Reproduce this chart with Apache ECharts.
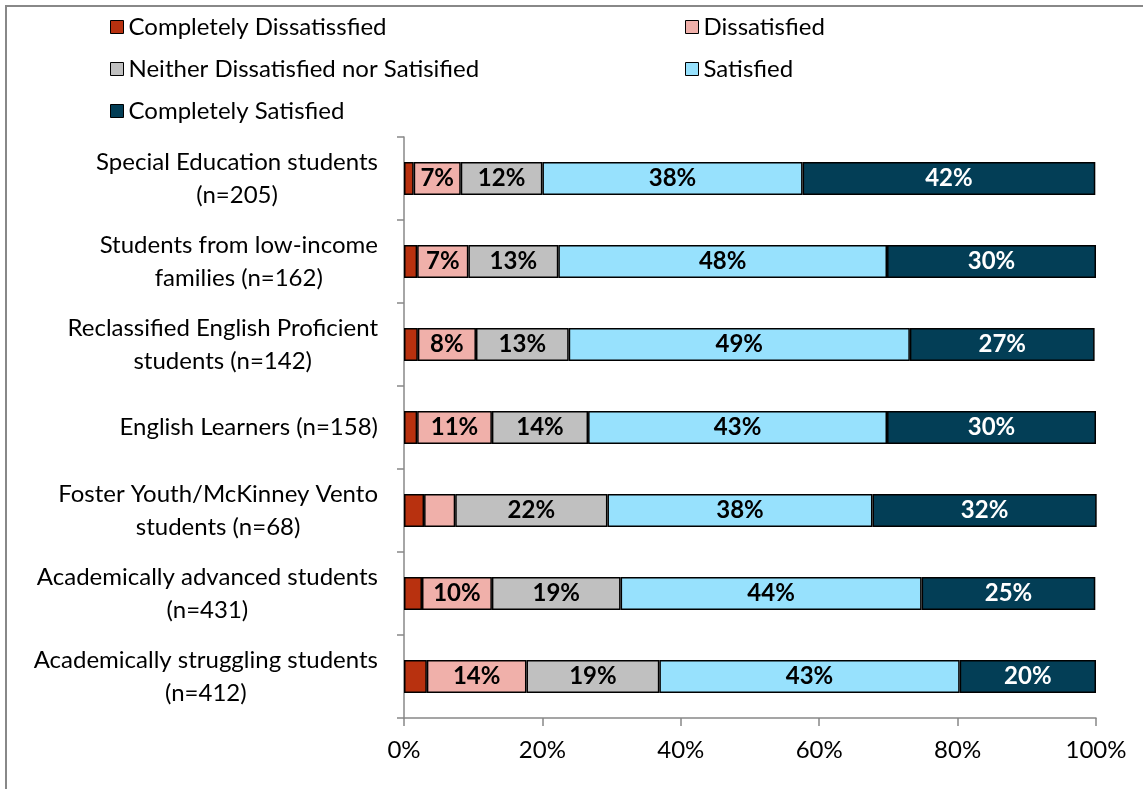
<!DOCTYPE html>
<html>
<head>
<meta charset="utf-8">
<script src="https://cdn.jsdelivr.net/npm/echarts@6/dist/echarts.min.js"></script>
<style>
  html, body { margin: 0; padding: 0; background: #fff; }
  #chart { width: 1143px; height: 789px; }
</style>
</head>
<body>
<div id="chart"></div>
<script>
const categories = [
  'Special Education students\n(n=205)',
  'Students from low-income\nfamilies (n=162)',
  'Reclassified English Proficient\nstudents (n=142)',
  'English Learners (n=158)',
  'Foster Youth/McKinney Vento\nstudents (n=68)',
  'Academically advanced students\n(n=431)',
  'Academically struggling students\n(n=412)'
];
const completelyDissatisfied = [1.4, 1.9, 2.0, 1.9, 2.9, 2.6, 3.3];
const dissatisfied = [6.8, 7.4, 8.4, 10.8, 4.5, 10.1, 14.4];
const neither = [11.8, 13.0, 13.4, 13.9, 22.0, 18.6, 19.2];
const satisfied = [37.6, 47.5, 49.3, 43.2, 38.3, 43.5, 43.4];
const completelySatisfied = [42.3, 30.2, 26.7, 30.2, 32.4, 25.1, 19.7];

const seriesNames = [
  'Completely Dissatissfied',
  'Dissatisfied',
  'Neither Dissatisfied nor Satisified',
  'Satisfied',
  'Completely Satisfied'
];
const seriesData = [completelyDissatisfied, dissatisfied, neither, satisfied, completelySatisfied];
const colors = ['#B8310F', '#F0B0AA', '#C0C0C0', '#97E1FD', '#033E56'];
const labelColors = ['#000', '#000', '#000', '#000', '#fff'];

const FONT = 'Lato';
const FS = 24;

let chart = echarts.init(document.getElementById('chart'));
chart.setOption({
  textStyle: { fontFamily: FONT },
  animation: false,
  graphic: [{
    type: 'rect',
    shape: { x: 6, y: 6, width: 1200, height: 900 },
    style: { fill: 'none', stroke: '#888', lineWidth: 2 },
    silent: true,
    z: -10
  }],
  legend: [
    {
      orient: 'vertical',
      left: 105,
      top: 8,
      itemWidth: 13,
      itemHeight: 13,
      itemGap: 14,
      icon: 'rect',
      data: [seriesNames[0], seriesNames[2], seriesNames[4]],
      textStyle: { fontFamily: FONT, fontSize: FS, color: '#000', lineHeight: 28 },
      itemStyle: { borderColor: '#000', borderWidth: 1 }
    },
    {
      orient: 'vertical',
      left: 680,
      top: 8,
      itemWidth: 13,
      itemHeight: 13,
      itemGap: 14,
      icon: 'rect',
      data: [seriesNames[1], seriesNames[3]],
      textStyle: { fontFamily: FONT, fontSize: FS, color: '#000', lineHeight: 28 },
      itemStyle: { borderColor: '#000', borderWidth: 1 }
    }
  ],
  grid: {
    left: 404,
    right: 47,
    top: 137,
    bottom: 71
  },
  xAxis: {
    type: 'value',
    min: 0,
    max: 100,
    interval: 20,
    axisLabel: {
      formatter: '{value}%',
      fontSize: FS,
      color: '#000',
      margin: 20
    },
    axisLine: { show: true, lineStyle: { color: '#888', width: 1.5 } },
    axisTick: { show: true, length: 8, lineStyle: { color: '#888', width: 1.5 } },
    splitLine: { show: false }
  },
  yAxis: {
    type: 'category',
    inverse: true,
    data: categories,
    axisLine: { show: true, lineStyle: { color: '#888', width: 1.5 } },
    axisTick: { show: true, length: 7, lineStyle: { color: '#888', width: 1.5 } },
    axisLabel: {
      margin: 26,
      align: 'right',
      formatter: function (value) {
        return value.split('\n').map(s => '{c|' + s + '}').join('\n');
      },
      rich: {
        c: { fontSize: FS, color: '#000', align: 'center', lineHeight: 33, fontFamily: FONT }
      }
    }
  },
  series: seriesNames.map((name, i) => ({
    name: name,
    type: 'bar',
    stack: 'total',
    barCategoryGap: '60%',
    data: seriesData[i],
    itemStyle: { color: colors[i], borderColor: '#000', borderWidth: 1.5 },
    label: {
      show: true,
      position: 'inside',
      color: labelColors[i],
      fontWeight: 'bold',
      fontSize: FS,
      fontFamily: FONT,
      formatter: function (p) {
        return p.value >= 5 ? Math.round(p.value) + '%' : '';
      }
    }
  }))
});
</script>
</body>
</html>
